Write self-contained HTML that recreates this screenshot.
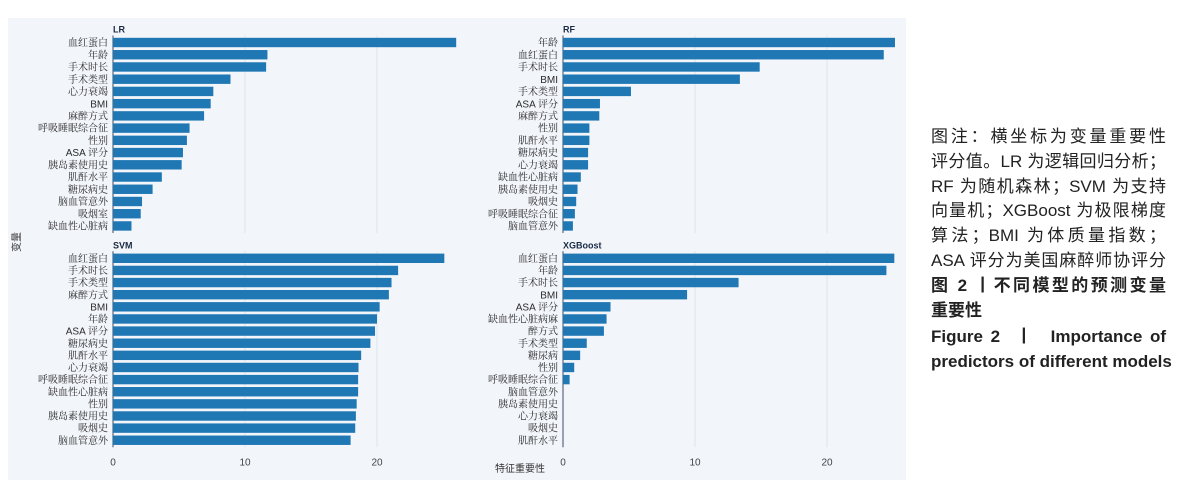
<!DOCTYPE html>
<html><head><meta charset="utf-8">
<style>
body{margin:0;width:1186px;height:494px;background:#fff;overflow:hidden;font-family:"Liberation Sans","Noto Sans CJK SC",sans-serif;}
#chart{position:absolute;left:0;top:0;}
#cap{position:absolute;left:931px;top:125px;width:235px;font-size:17px;line-height:24.8px;color:#222;}
#cap div{text-align:justify;text-align-last:justify;white-space:nowrap;}
#cap div.l{text-align-last:left;}
.b{font-weight:bold;}
</style></head><body>
<svg id="chart" width="910" height="494" xmlns="http://www.w3.org/2000/svg">
<rect x="8" y="18" width="898" height="462" fill="#f2f5fa"/>
<g id="panels"></g>
<text x="20" y="242" transform="rotate(-90 20 242)" text-anchor="middle" font-size="10" fill="#333" font-family="Noto Sans CJK SC, sans-serif">变量</text>
<text x="520" y="472" text-anchor="middle" font-size="10" fill="#333" font-family="Noto Sans CJK SC, sans-serif">特征重要性</text>
</svg>
<div id="cap">
<div>图注：横坐标为变量重要性</div>
<div>评分值。LR 为逻辑回归分析；</div>
<div>RF 为随机森林；SVM 为支持</div>
<div>向量机；XGBoost 为极限梯度</div>
<div>算法；BMI 为体质量指数；</div>
<div>ASA 评分为美国麻醉师协评分</div>
<div class="b">图 2 丨不同模型的预测变量</div>
<div class="b l">重要性</div>
<div class="b" style="margin-top:2px;">Figure 2 &nbsp;丨 &nbsp;Importance of</div>
<div class="b l">predictors of different models</div>
</div>
<script>
const lrLabels=["血红蛋白","年龄","手术时长","手术类型","心力衰竭","BMI","麻醉方式","呼吸睡眠综合征","性别","ASA 评分","胰岛素使用史","肌酐水平","糖尿病史","脑血管意外","吸烟室","缺血性心脏病"];
const lrValues=[26.0,11.7,11.6,8.9,7.6,7.4,6.9,5.8,5.6,5.3,5.2,3.7,3.0,2.2,2.1,1.4];
const rfLabels=["年龄","血红蛋白","手术时长","BMI","手术类型","ASA 评分","麻醉方式","性别","肌酐水平","糖尿病史","心力衰竭","缺血性心脏病","胰岛素使用史","吸烟史","呼吸睡眠综合征","脑血管意外"];
const rfValues=[25.15,24.3,14.9,13.4,5.15,2.8,2.75,2.0,2.0,1.9,1.9,1.35,1.1,1.0,0.9,0.75];
const svmLabels=["血红蛋白","手术时长","手术类型","麻醉方式","BMI","年龄","ASA 评分","糖尿病史","肌酐水平","心力衰竭","呼吸睡眠综合征","缺血性心脏病","性别","胰岛素使用史","吸烟史","脑血管意外"];
const svmValues=[25.1,21.6,21.1,20.9,20.2,20.0,19.85,19.5,18.8,18.6,18.57,18.57,18.46,18.4,18.35,18.0];
const xgbLabels=["血红蛋白","年龄","手术时长","BMI","ASA 评分","缺血性心脏病麻","醉方式","手术类型","糖尿病","性别","呼吸睡眠综合征","脑血管意外","胰岛素使用史","心力衰竭","吸烟史","肌酐水平"];
const xgbValues=[25.1,24.5,13.3,9.4,3.6,3.3,3.1,1.8,1.3,0.85,0.5,0,0,0,0,0];
const xTicks=[0,10,20];
const NS="http://www.w3.org/2000/svg";
const root=document.getElementById('panels');
function mk(tag,attrs,parent){const e=document.createElementNS(NS,tag);for(const k in attrs)e.setAttribute(k,attrs[k]);parent.appendChild(e);return e;}
function panel(title,labels,values,x0,yFirst,step,showTicks,key){
  const g=mk('g',{},root);
  
  
  const sx=v=>x0+v*13.2;
  const top=yFirst-7, bot=yFirst+step*(labels.length-1)+7;
  xTicks.forEach(t=>{ if(t>0){const l=mk('line',{x1:sx(t),x2:sx(t),y1:top,y2:bot,stroke:'#dde3ec','stroke-width':1},g);
    
    }
    if(showTicks){const tt=mk('text',{x:sx(t),y:bot+18,'text-anchor':'middle','font-size':10,fill:'#444'},g);tt.textContent=t;
    
    }
  });
  const ax=mk('line',{x1:x0,x2:x0,y1:top,y2:bot,stroke:'#3a4a66','stroke-width':1},g);
  
  
  const tl=mk('text',{x:x0,y:top-3,'font-size':9,'font-weight':'bold',fill:'#1a2a44'},g);tl.textContent=title;
  
  
  labels.forEach((lab,i)=>{
    const cy=yFirst+i*step;
    if(values[i]>0){const r=mk('rect',{x:x0,y:cy-4.7,width:sx(values[i])-x0,height:9.4,fill:'#1f77b4'},g);
    
    }
    const t=mk('text',{x:x0-5,y:cy+3.6,'text-anchor':'end','font-size':10,fill:'#2a2a2a','font-family':'Liberation Sans, Noto Serif CJK SC, serif'},g);t.textContent=lab;
    
    
  });
}
panel('LR',lrLabels,lrValues,113,42.5,12.23,false,'lr');
panel('RF',rfLabels,rfValues,563,42.5,12.23,false,'rf');
panel('SVM',svmLabels,svmValues,113,258.3,12.13,true,'svm');
panel('XGBoost',xgbLabels,xgbValues,563,258.3,12.13,true,'xgboost');
</script>
</body></html>
